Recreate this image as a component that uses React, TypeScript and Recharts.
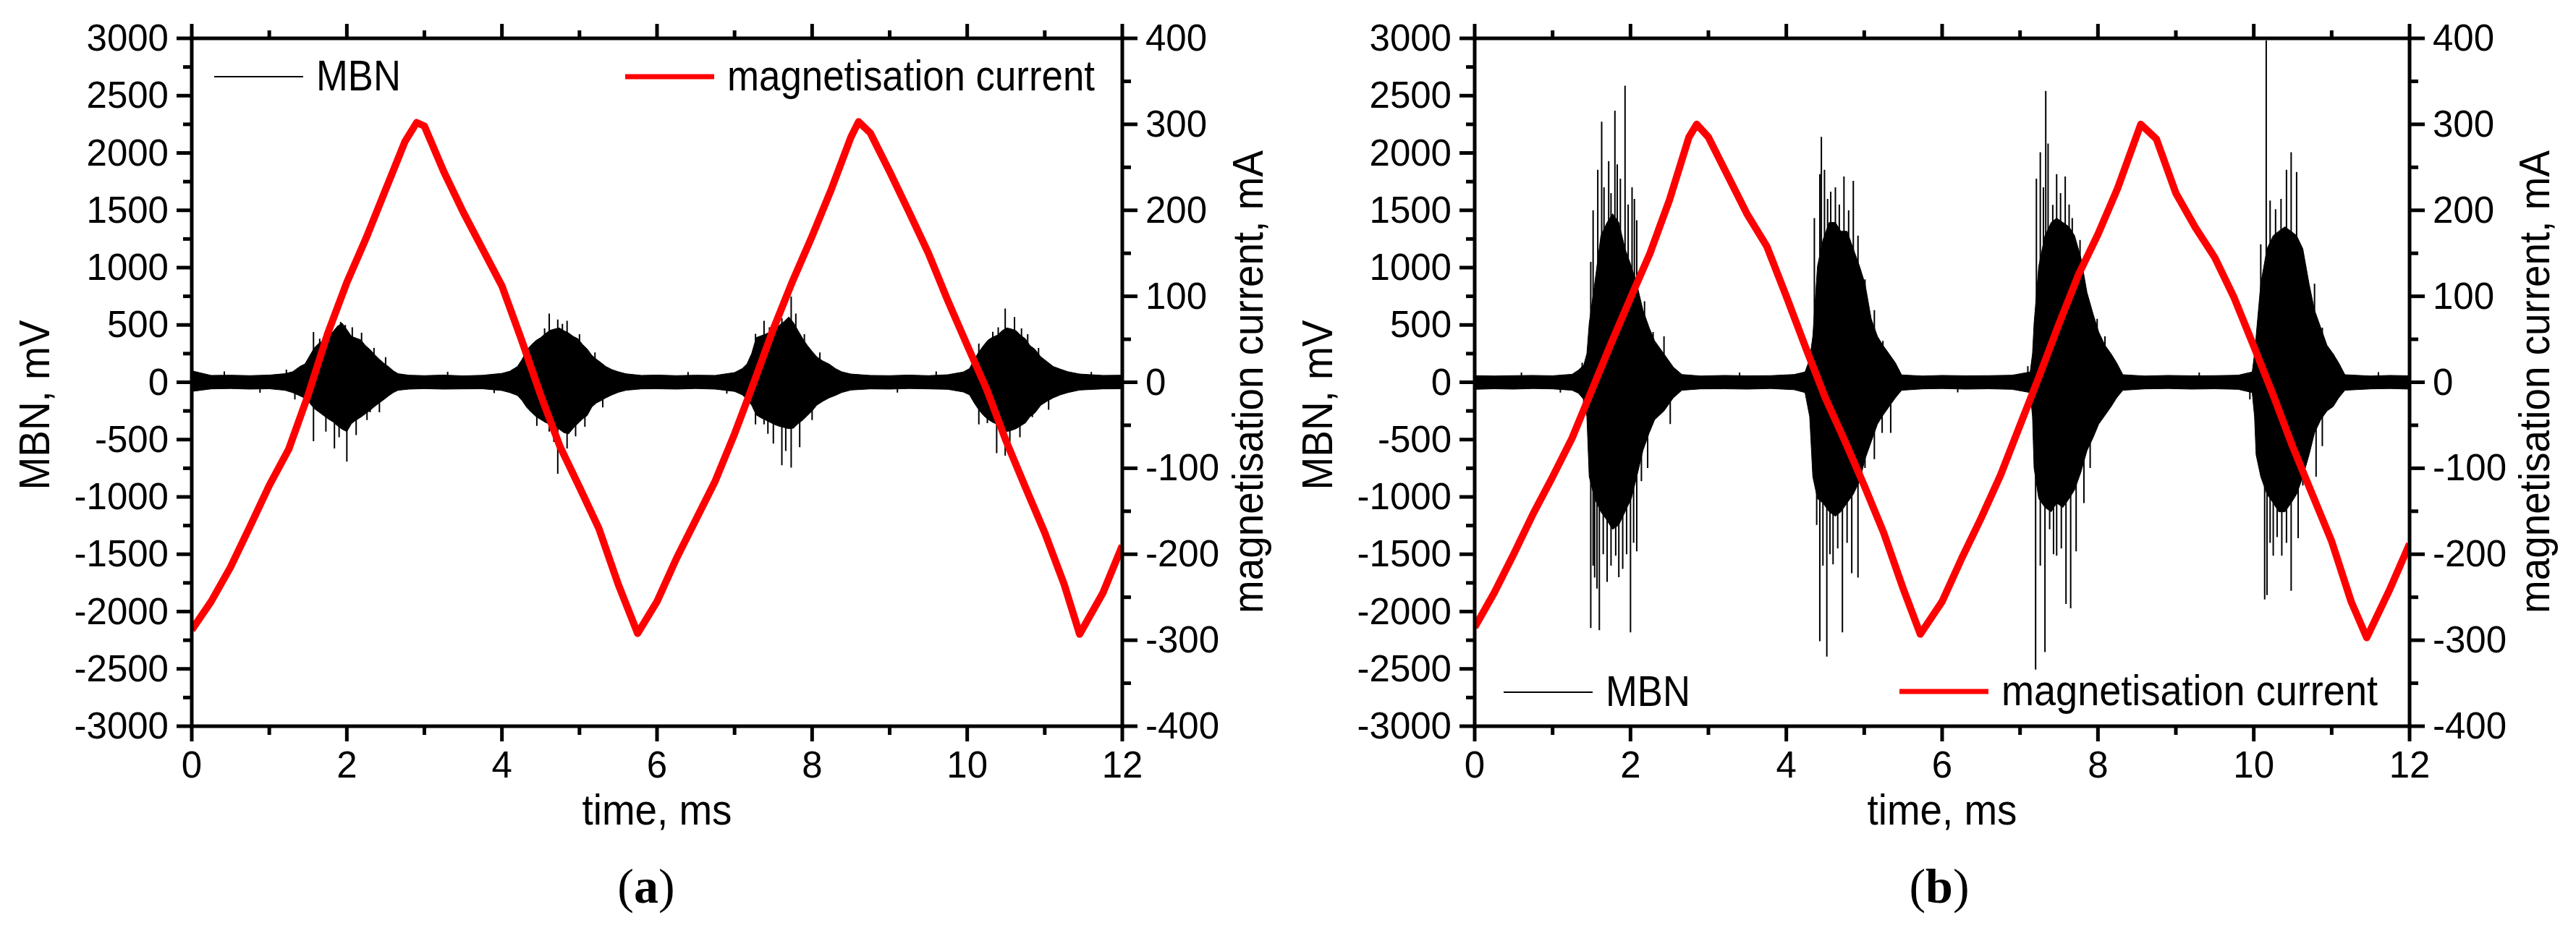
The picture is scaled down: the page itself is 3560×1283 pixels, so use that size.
import { Area, ComposedChart, Line, XAxis, YAxis } from 'recharts';

const SANS = "'Liberation Sans', Arial, Helvetica, sans-serif";
const SERIF = "'Liberation Serif', 'Times New Roman', serif";
const RED = '#ff0000';

const xTicks = [0, 1, 2, 3, 4, 5, 6, 7, 8, 9, 10, 11, 12];
const mvTicks = [
  -3000, -2750, -2500, -2250, -2000, -1750, -1500, -1250, -1000, -750, -500, -250, 0, 250, 500, 750,
  1000, 1250, 1500, 1750, 2000, 2250, 2500, 2750, 3000,
];
const maTicks = [-400, -350, -300, -250, -200, -150, -100, -50, 0, 50, 100, 150, 200, 250, 300, 350, 400];

// ---- panel (a) ----
const redTimeA = [
  0, 0.25, 0.5, 0.75, 1, 1.25, 1.5, 1.75, 2, 2.25, 2.5, 2.75, 2.9, 3, 3.25, 3.5, 3.75, 4, 4.25, 4.5, 4.75, 5,
  5.25, 5.5, 5.75, 6, 6.25, 6.5, 6.75, 7, 7.25, 7.5, 7.75, 8, 8.25, 8.5, 8.6, 8.75, 9, 9.25, 9.5, 9.75, 10,
  10.25, 10.5, 10.75, 11, 11.25, 11.45, 11.75, 12,
];
const redCurrentA = [
  -288, -255, -215, -168, -120, -78, -15, 56, 116, 168, 224, 280, 302, 298, 245, 198, 155, 112, 50, -15, -75,
  -122, -170, -235, -292, -255, -205, -160, -115, -60, 0, 62, 118, 170, 225, 285, 303, 290, 245, 198, 150, 95,
  43, -8, -68, -122, -175, -235, -293, -245, -190,
];
// MBN dense core: [time ms, lower mV, upper mV]
const mbnCoreA: [number, number, number][] = [
  [0, -80, 100], [0.25, -58, 60], [0.5, -55, 62], [0.75, -60, 58], [1, -57, 63], [1.2, -70, 75], [1.3, -90, 92],
  [1.4, -120, 140], [1.46, -140, 160], [1.52, -180, 230], [1.58, -230, 300], [1.64, -260, 340], [1.7, -290, 365],
  [1.76, -320, 400], [1.82, -345, 440], [1.88, -380, 490], [1.94, -410, 515], [2, -430, 460], [2.06, -360, 400],
  [2.12, -330, 385], [2.18, -305, 370], [2.24, -275, 320], [2.3, -245, 285], [2.36, -210, 240], [2.42, -180, 200],
  [2.48, -150, 165], [2.54, -118, 135], [2.6, -90, 100], [2.66, -70, 75], [2.8, -60, 62], [3, -56, 58],
  [3.25, -60, 63], [3.5, -58, 56], [3.75, -57, 61], [4, -72, 78], [4.1, -90, 96], [4.2, -115, 138],
  [4.26, -160, 200], [4.32, -220, 280], [4.38, -262, 327], [4.44, -300, 365], [4.5, -325, 390], [4.56, -350, 425],
  [4.62, -367, 453], [4.68, -390, 465], [4.74, -410, 474], [4.8, -440, 450], [4.86, -450, 430], [4.92, -400, 400],
  [4.98, -360, 380], [5.04, -320, 330], [5.1, -290, 290], [5.16, -215, 235], [5.22, -180, 200], [5.28, -160, 170],
  [5.34, -136, 138], [5.42, -110, 110], [5.5, -88, 92], [5.6, -70, 74], [5.8, -58, 60], [6, -57, 63],
  [6.25, -60, 58], [6.5, -55, 62], [6.75, -60, 60], [7, -80, 85], [7.1, -110, 120], [7.16, -150, 160],
  [7.22, -200, 250], [7.28, -285, 390], [7.34, -310, 405], [7.4, -330, 420], [7.46, -350, 440], [7.52, -370, 455],
  [7.58, -385, 500], [7.64, -395, 530], [7.7, -405, 570], [7.76, -400, 520], [7.82, -360, 450], [7.88, -330, 380],
  [7.94, -290, 320], [8, -250, 270], [8.06, -200, 222], [8.14, -165, 185], [8.22, -136, 159], [8.3, -115, 120],
  [8.38, -90, 92], [8.5, -68, 72], [8.75, -58, 60], [9, -60, 58], [9.25, -55, 63], [9.5, -58, 58], [9.75, -62, 66],
  [9.95, -85, 90], [10.03, -110, 120], [10.09, -180, 200], [10.15, -241, 264], [10.21, -290, 320],
  [10.27, -325, 369], [10.33, -350, 395], [10.39, -367, 411], [10.45, -400, 450], [10.51, -430, 474],
  [10.57, -420, 465], [10.63, -405, 450], [10.69, -380, 410], [10.75, -355, 380], [10.81, -300, 320],
  [10.87, -270, 290], [10.95, -200, 222], [11.03, -165, 180], [11.11, -136, 138], [11.2, -110, 115],
  [11.3, -90, 92], [11.45, -68, 72], [11.75, -58, 60], [12, -57, 62],
];
// isolated MBN spikes: [time ms, peak mV]
const mbnSpikesA: [number, number][] = [
  [0.01, 117], [0.01, -236], [0.42, 95], [0.88, -92], [1.22, 110], [1.33, -150], [1.57, 439], [1.57, -514],
  [1.65, 380], [1.73, -430], [1.77, 420], [1.84, -577], [1.9, -480], [1.92, 527], [1.98, 500], [2, -693],
  [2.07, 480], [2.12, -460], [2.19, 432], [2.26, -330], [2.3, -262], [2.35, 300], [2.42, -262], [2.5, 220],
  [3.3, 92], [3.9, -95], [4.3, 300], [4.45, -380], [4.55, 470], [4.61, 600], [4.61, -430], [4.67, -520],
  [4.72, 548], [4.72, -798], [4.78, 510], [4.84, 537], [4.84, -577], [4.95, -472], [5.0, 420], [5.07, -388],
  [5.2, 260], [5.3, -220], [6.4, 90], [6.9, -100], [7.27, 422], [7.27, -367], [7.38, 537], [7.38, -367],
  [7.43, -450], [7.45, 480], [7.5, -535], [7.55, 520], [7.61, 558], [7.61, -724], [7.66, -600], [7.73, 748],
  [7.73, -745], [7.79, 600], [7.84, -567], [7.9, 420], [8.0, -330], [8.1, 260], [9.1, -90], [9.6, 95],
  [10.15, 338], [10.15, -367], [10.26, -357], [10.33, 440], [10.38, -619], [10.4, 480], [10.49, 643],
  [10.49, -640], [10.55, -520], [10.61, 569], [10.68, -480], [10.7, 470], [10.78, 420], [10.84, -304],
  [10.92, 300], [11.05, -240], [11.6, 90],
];

// ---- panel (b) ----
const redTimeB = [
  0, 0.25, 0.5, 0.75, 1, 1.25, 1.5, 1.75, 2, 2.25, 2.5, 2.75, 2.85, 3, 3.25, 3.5, 3.75, 4, 4.25, 4.5, 4.75, 5,
  5.25, 5.5, 5.72, 6, 6.25, 6.5, 6.75, 7, 7.25, 7.5, 7.75, 8, 8.25, 8.55, 8.75, 9, 9.25, 9.5, 9.75, 10, 10.25,
  10.5, 10.75, 11, 11.25, 11.45, 11.75, 12,
];
const redCurrentB = [
  -285, -245, -200, -153, -110, -65, -10, 45, 98, 150, 212, 285, 300, 285, 240, 195, 158, 100, 40, -18, -68,
  -120, -175, -240, -293, -255, -205, -158, -108, -50, 8, 68, 125, 172, 225, 300, 283, 220, 180, 145, 98, 42,
  -15, -75, -130, -185, -255, -297, -240, -188,
];
const mbnCoreB: [number, number, number][] = [
  [0, -62, 58], [0.25, -57, 55], [0.5, -60, 58], [0.75, -55, 60], [1, -58, 57], [1.25, -70, 70], [1.33, -95, 105],
  [1.4, -150, 150], [1.44, -300, 250], [1.47, -824, 514], [1.54, -1015, 859], [1.62, -1130, 1279],
  [1.7, -1206, 1394], [1.77, -1283, 1470], [1.85, -1245, 1394], [1.93, -1130, 1164], [2.01, -1015, 1012],
  [2.08, -824, 859], [2.16, -595, 629], [2.24, -442, 476], [2.31, -327, 361], [2.43, -250, 247], [2.55, -135, 132],
  [2.66, -70, 68], [2.9, -58, 55], [3.2, -57, 60], [3.5, -60, 57], [3.8, -55, 58], [4.1, -65, 68], [4.24, -90, 90],
  [4.3, -300, 200], [4.34, -824, 400], [4.4, -1015, 1012], [4.47, -1053, 1241], [4.55, -1130, 1394],
  [4.63, -1168, 1394], [4.7, -1130, 1317], [4.78, -1053, 1317], [4.86, -977, 1164], [4.94, -862, 1012],
  [5.01, -671, 859], [5.09, -518, 553], [5.17, -365, 400], [5.24, -289, 323], [5.32, -212, 247], [5.4, -136, 170],
  [5.48, -70, 64], [5.75, -58, 55], [6, -55, 60], [6.3, -60, 57], [6.6, -57, 58], [6.9, -62, 62], [7.13, -90, 90],
  [7.16, -300, 250], [7.18, -748, 514], [7.24, -1015, 1012], [7.32, -1092, 1279], [7.4, -1130, 1394],
  [7.47, -1053, 1432], [7.55, -1092, 1394], [7.63, -1015, 1356], [7.7, -939, 1279], [7.78, -786, 1088],
  [7.86, -595, 782], [7.94, -480, 591], [8.01, -365, 438], [8.09, -289, 323], [8.17, -212, 247], [8.24, -136, 170],
  [8.32, -70, 66], [8.6, -58, 55], [8.9, -55, 60], [9.2, -60, 57], [9.5, -57, 58], [9.8, -62, 62], [9.98, -90, 90],
  [10.01, -300, 250], [10.03, -633, 400], [10.09, -824, 859], [10.17, -977, 1164], [10.25, -1053, 1279],
  [10.32, -1130, 1317], [10.4, -1130, 1356], [10.48, -1053, 1317], [10.55, -977, 1279], [10.63, -824, 1164],
  [10.71, -633, 859], [10.78, -442, 629], [10.86, -327, 476], [10.94, -250, 323], [11.02, -212, 247],
  [11.09, -136, 170], [11.17, -70, 66], [11.5, -58, 55], [11.75, -55, 60], [12, -60, 57],
];
const mbnSpikesB: [number, number][] = [
  [0.6, 85], [1.1, -90], [1.38, 170], [1.4, -240],
  [1.49, 1050], [1.52, 1500], [1.58, 1853], [1.63, 2273], [1.66, 1700], [1.72, 1929], [1.75, 1650], [1.8, 2369],
  [1.83, 1900], [1.87, 1776], [1.93, 2587], [1.97, 1550], [2.02, 1700], [2.05, 1600], [2.08, 1413], [2.18, 706],
  [2.29, 438], [2.43, 400],
  [1.49, -2143], [1.52, -1600], [1.54, -1704], [1.57, -1800], [1.6, -2162], [1.65, -1500], [1.7, -1742],
  [1.75, -1600], [1.81, -1512], [1.85, -1700], [1.9, -1627], [1.95, -1500], [2, -2182], [2.04, -1400],
  [2.08, -1474], [2.14, -862], [2.22, -748], [2.51, -365],
  [3.4, 85], [4.28, 150],
  [4.36, 1432], [4.43, 1815], [4.45, 2140], [4.49, 1853], [4.53, 1600], [4.57, 1662], [4.63, 1700], [4.68, 1550],
  [4.74, 1795], [4.8, 1500], [4.86, 1757], [4.92, 1279], [5.01, 897], [5.13, 629], [5.24, 361],
  [4.39, -1245], [4.43, -2258], [4.47, -1600], [4.52, -2392], [4.56, -1500], [4.6, -1589], [4.66, -1450],
  [4.72, -2182], [4.78, -1400], [4.84, -1665], [4.92, -1704], [5.01, -748], [5.13, -671], [5.23, -442],
  [5.34, -442],
  [6.2, -88], [7.1, 140],
  [7.21, 1776], [7.26, 2006], [7.3, 1700], [7.33, 2541], [7.36, 2082], [7.42, 1547], [7.47, 1815], [7.52, 1650],
  [7.58, 1795], [7.63, 1550], [7.67, 1432], [7.77, 1241], [7.9, 667], [7.99, 553], [8.09, 400],
  [7.2, -2507], [7.26, -1600], [7.32, -2354], [7.38, -1283], [7.43, -1500], [7.47, -1512], [7.53, -1450],
  [7.59, -1933], [7.65, -1971], [7.72, -1474], [7.82, -1053], [7.9, -748],
  [9.3, 85], [9.95, -150],
  [10.09, 1203], [10.16, 2981], [10.21, 1585], [10.28, 1509], [10.35, 1600], [10.42, 1853], [10.48, 2006],
  [10.55, 1834], [10.61, 1088], [10.69, 744], [10.78, 859], [10.88, 476], [11.02, 247],
  [10.14, -1895], [10.17, -1857], [10.21, -1400], [10.25, -1512], [10.3, -1350], [10.36, -1512], [10.42, -1400],
  [10.48, -1818], [10.57, -1359], [10.63, -901], [10.8, -824], [10.88, -556], [11.6, 88],
];

type Row = { t: number; core?: [number, number]; red?: number; spike?: number | null };

function buildRows(
  redT: number[],
  redV: number[],
  core: [number, number, number][],
  spikes: [number, number][],
): Row[] {
  const rows: Row[] = [];
  redT.forEach((t, i) => rows.push({ t, red: redV[i] }));
  core.forEach(([t, lo, hi]) => rows.push({ t, core: [lo, hi] }));
  // each spike is a vertical segment 0 -> peak, followed by a gap
  spikes.forEach(([t, v]) => rows.push({ t, spike: 0 }, { t, spike: v }, { t, spike: null }));
  return rows.sort((a, b) => a.t - b.t);
}

const rowsA = buildRows(redTimeA, redCurrentA, mbnCoreA, mbnSpikesA);
const rowsB = buildRows(redTimeB, redCurrentB, mbnCoreB, mbnSpikesB);

const AXIS = { stroke: '#000', strokeWidth: 5, strokeLinecap: 'square' as const };
const TICK_W = 5;
const TICK_FONT = 51;

type TickProps = { x?: number; y?: number; payload?: { value: number } };

function BottomTick({ x = 0, y = 0, payload }: TickProps) {
  const v = payload?.value ?? 0;
  const major = v % 2 === 0;
  return (
    <g>
      <line x1={x} x2={x} y1={y} y2={y + (major ? 21 : 12)} stroke="#000" strokeWidth={TICK_W} />
      {major && (
        <text x={x} y={y + 71} textAnchor="middle" fontFamily={SANS} fontSize={TICK_FONT} fill="#000">
          {v}
        </text>
      )}
    </g>
  );
}

function TopTick({ x = 0, y = 0, payload }: TickProps) {
  const major = (payload?.value ?? 0) % 2 === 0;
  return <line x1={x} x2={x} y1={y} y2={y - (major ? 20 : 11)} stroke="#000" strokeWidth={TICK_W} />;
}

function LeftTick({ x = 0, y = 0, payload }: TickProps) {
  const v = payload?.value ?? 0;
  const major = v % 500 === 0;
  return (
    <g>
      <line x1={x} x2={x - (major ? 21 : 12)} y1={y} y2={y} stroke="#000" strokeWidth={TICK_W} />
      {major && (
        <text x={x - 32} y={y + 17} textAnchor="end" fontFamily={SANS} fontSize={TICK_FONT} fill="#000">
          {v}
        </text>
      )}
    </g>
  );
}

function RightTick({ x = 0, y = 0, payload }: TickProps) {
  const v = payload?.value ?? 0;
  const major = v % 100 === 0;
  return (
    <g>
      <line x1={x} x2={x + (major ? 21 : 12)} y1={y} y2={y} stroke="#000" strokeWidth={TICK_W} />
      {major && (
        <text x={x + 32} y={y + 17} textAnchor="start" fontFamily={SANS} fontSize={TICK_FONT} fill="#000">
          {v}
        </text>
      )}
    </g>
  );
}

function Panel({ rows, leftWidth, rightWidth }: { rows: Row[]; leftWidth: number; rightWidth: number }) {
  return (
    <ComposedChart width={1780} height={1283} data={rows} margin={{ top: 23, right: 0, bottom: 219, left: 0 }}>
      <XAxis
        xAxisId="bottom"
        dataKey="t"
        type="number"
        domain={[0, 12]}
        allowDataOverflow
        ticks={xTicks}
        interval={0}
        height={60}
        tickSize={0}
        tickMargin={0}
        tickLine={false}
        axisLine={AXIS}
        tick={BottomTick}
      />
      <XAxis
        xAxisId="top"
        orientation="top"
        dataKey="t"
        type="number"
        domain={[0, 12]}
        allowDataOverflow
        ticks={xTicks}
        interval={0}
        height={30}
        tickSize={0}
        tickMargin={0}
        tickLine={false}
        axisLine={AXIS}
        tick={TopTick}
      />
      <YAxis
        yAxisId="mv"
        type="number"
        domain={[-3000, 3000]}
        allowDataOverflow
        ticks={mvTicks}
        interval={0}
        width={leftWidth}
        tickSize={0}
        tickMargin={0}
        tickLine={false}
        axisLine={AXIS}
        tick={LeftTick}
      />
      <YAxis
        yAxisId="ma"
        orientation="right"
        type="number"
        domain={[-400, 400]}
        allowDataOverflow
        ticks={maTicks}
        interval={0}
        width={rightWidth}
        tickSize={0}
        tickMargin={0}
        tickLine={false}
        axisLine={AXIS}
        tick={RightTick}
      />
      <Area
        xAxisId="bottom"
        yAxisId="mv"
        dataKey="core"
        type="linear"
        stroke="#000"
        strokeWidth={1}
        fill="#000"
        fillOpacity={1}
        connectNulls
        dot={false}
        activeDot={false}
        isAnimationActive={false}
      />
      <Line
        xAxisId="bottom"
        yAxisId="mv"
        dataKey="spike"
        type="linear"
        stroke="#000"
        strokeWidth={2}
        dot={false}
        activeDot={false}
        isAnimationActive={false}
      />
      <Line
        xAxisId="bottom"
        yAxisId="ma"
        dataKey="red"
        type="linear"
        stroke={RED}
        strokeWidth={10}
        strokeLinejoin="round"
        connectNulls
        dot={false}
        activeDot={false}
        isAnimationActive={false}
      />
      <Line
        xAxisId="top"
        yAxisId="ma"
        dataKey="red"
        stroke="none"
        connectNulls
        dot={false}
        activeDot={false}
        isAnimationActive={false}
      />
    </ComposedChart>
  );
}

function LegendItem({ x, y, color, width, label, textWidth }: {
  x: number; y: number; color: string; width: number; label: string; textWidth: number;
}) {
  return (
    <g>
      <line x1={x} x2={x + 123} y1={y} y2={y} stroke={color} strokeWidth={width} />
      <text x={x + 141} y={y + 19} fontFamily={SANS} fontSize={60} textLength={textWidth} lengthAdjust="spacingAndGlyphs">
        {label}
      </text>
    </g>
  );
}

function VTitle({ x, y, label, len }: { x: number; y: number; label: string; len: number }) {
  return (
    <text
      x={x}
      y={y}
      transform={`rotate(-90 ${x} ${y})`}
      textAnchor="middle"
      fontFamily={SANS}
      fontSize={60}
      textLength={len}
      lengthAdjust="spacingAndGlyphs"
    >
      {label}
    </text>
  );
}

function Texts() {
  return (
    <svg width={3560} height={1283} style={{ position: 'absolute', left: 0, top: 0, pointerEvents: 'none' }}>
      <LegendItem x={296} y={106} color="#000" width={2} label="MBN" textWidth={117} />
      <LegendItem x={864} y={106} color={RED} width={7} label="magnetisation current" textWidth={508} />
      <LegendItem x={2078} y={957} color="#000" width={2} label="MBN" textWidth={117} />
      <LegendItem x={2625} y={956} color={RED} width={7} label="magnetisation current" textWidth={520} />

      <VTitle x={68} y={560} label="MBN, mV" len={235} />
      <VTitle x={1745} y={528} label="magnetisation current, mA" len={640} />
      <VTitle x={1841} y={560} label="MBN, mV" len={235} />
      <VTitle x={3523} y={528} label="magnetisation current, mA" len={640} />

      <text x={908} y={1140} textAnchor="middle" fontFamily={SANS} fontSize={60} textLength={207} lengthAdjust="spacingAndGlyphs">
        time, ms
      </text>
      <text x={2684} y={1140} textAnchor="middle" fontFamily={SANS} fontSize={60} textLength={207} lengthAdjust="spacingAndGlyphs">
        time, ms
      </text>

      <text x={893} y={1248} textAnchor="middle" fontFamily={SERIF} fontSize={68}>
        (<tspan fontWeight="bold">a</tspan>)
      </text>
      <text x={2680} y={1248} textAnchor="middle" fontFamily={SERIF} fontSize={68}>
        (<tspan fontWeight="bold">b</tspan>)
      </text>
    </svg>
  );
}

export default function App() {
  return (
    <div style={{ position: 'absolute', left: 0, top: 0, width: 3560, height: 1283, background: '#fff' }}>
      <div style={{ position: 'absolute', left: 0, top: 0 }}>
        <Panel rows={rowsA} leftWidth={265} rightWidth={229} />
      </div>
      <div style={{ position: 'absolute', left: 1780, top: 0 }}>
        <Panel rows={rowsB} leftWidth={258} rightWidth={230} />
      </div>
      <Texts />
    </div>
  );
}
